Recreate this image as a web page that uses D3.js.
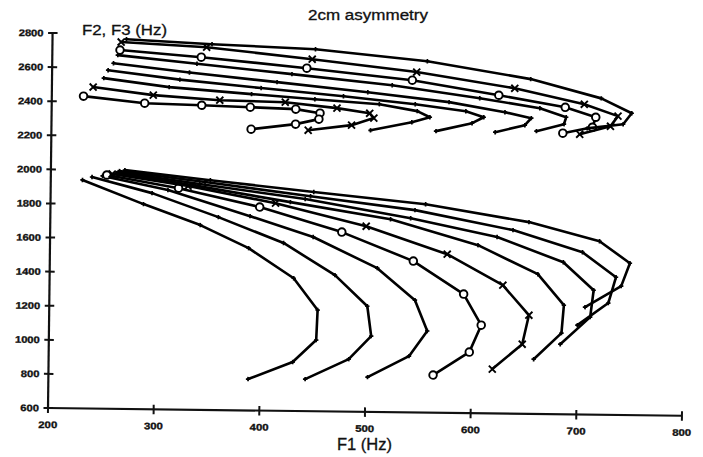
<!DOCTYPE html>
<html>
<head>
<meta charset="utf-8">
<script src="https://cdn.jsdelivr.net/npm/d3@7"></script>
<style>
  body { margin: 0; background: #fff; }
  #chart-container { width: 703px; height: 457px; }
</style>
</head>
<body>
<div id="chart-container"></div>
<script>
const chartTitle = "2cm asymmetry";
const xAxisTitle = "F1 (Hz)";
const yAxisTitle = "F2, F3 (Hz)";
const xTicks = [200, 300, 400, 500, 600, 700, 800];
const yTicks = [600, 800, 1000, 1200, 1400, 1600, 1800, 2000, 2200, 2400, 2600, 2800];

// F1 of each of the 9 series (shared by its F2 and F3 branch)
const f1Series = [
    [230, 288, 342, 388, 431, 454, 453, 431, 389],
    [239, 296, 359, 421, 470, 501, 505, 484, 443],
    [249, 311, 389, 449, 510, 546, 558, 541, 502],
    [253, 321, 398, 476, 544, 592, 609, 598, 564],
    [258, 330, 413, 499, 576, 629, 654, 648, 620],
    [262, 337, 427, 522, 605, 662, 687, 685, 659],
    [264, 341, 441, 541, 623, 686, 715, 712, 684],
    [265, 346, 446, 545, 638, 704, 736, 729, 700],
    [270, 351, 449, 555, 653, 720, 749, 741, 707]
];

// lower bundle
const f2Series = [
    [1940, 1803, 1684, 1552, 1379, 1194, 1018, 887, 784],
    [1958, 1868, 1732, 1585, 1400, 1220, 1045, 908, 788],
    [1965, 1887, 1740, 1622, 1444, 1259, 1079, 930, 804],
    [1971, 1899, 1794, 1653, 1488, 1298, 1117, 958, 821],
    [1977, 1912, 1818, 1689, 1531, 1353, 1179, 1008, 860],
    [1983, 1915, 1825, 1732, 1586, 1420, 1240, 1076, 921],
    [1989, 1925, 1844, 1739, 1635, 1492, 1330, 1172, 1011],
    [1995, 1937, 1861, 1787, 1677, 1552, 1408, 1256, 1124],
    [2001, 1948, 1886, 1822, 1725, 1618, 1491, 1356, 1230]
];

// upper bundle
const f3Series = [
    [2432, 2395, 2387, 2379, 2371, 2349, 2314, 2283, 2250],
    [2486, 2443, 2418, 2411, 2380, 2352, 2324, 2281, 2248],
    [2539, 2491, 2456, 2430, 2406, 2368, 2333, 2302, 2252],
    [2586, 2536, 2492, 2450, 2408, 2371, 2337, 2301, 2252],
    [2627, 2578, 2528, 2475, 2423, 2368, 2335, 2293, 2250],
    [2675, 2630, 2576, 2518, 2448, 2394, 2343, 2302, 2259],
    [2705, 2669, 2612, 2549, 2467, 2401, 2345, 2286, 2249],
    [2752, 2728, 2665, 2597, 2509, 2420, 2353, 2293, 2244],
    [2769, 2746, 2724, 2661, 2564, 2456, 2371, 2306, 2279]
];

const f2Markers = ['dot', 'dot', 'dot', 'circle', 'cross', 'dot', 'dot', 'dot', 'dot'];
const f3Markers = ['circle', 'cross', 'dot', 'dot', 'dot', 'dot', 'circle', 'cross', 'dot'];

document.addEventListener('DOMContentLoaded', function() {
    const svg = setupSVG();
    // the scanned figure is tilted a little clockwise
    const plot = svg.append('g').attr('transform', 'rotate(0.7, 48, 408)');
    const scales = defineScales();

    drawAxes(plot, scales);
    drawCurves(plot, scales, f2Series, f2Markers, 'f2');
    drawCurves(plot, scales, f3Series, f3Markers, 'f3');
    drawLabels(svg);
});

function setupSVG() {
    return d3.select('#chart-container').append('svg')
        .attr('width', 703)
        .attr('height', 457)
        .style('background', '#fff');
}

function defineScales() {
    const x = d3.scaleLinear().domain([200, 800]).range([48, 682]);
    const y = d3.scaleLinear().domain([600, 2800]).range([408, 33]);
    return { x, y };
}

function drawAxes(plot, { x, y }) {
    const axisColor = '#111';

    plot.append('line')
        .attr('x1', x(200)).attr('x2', x(800))
        .attr('y1', y(600)).attr('y2', y(600))
        .attr('stroke', axisColor).attr('stroke-width', 2.2);

    plot.append('line')
        .attr('x1', x(200)).attr('x2', x(200))
        .attr('y1', y(600)).attr('y2', y(2800))
        .attr('stroke', axisColor).attr('stroke-width', 2.2);

    plot.selectAll('.xtick')
        .data(xTicks)
        .enter().append('line')
        .attr('class', 'xtick')
        .attr('x1', d => x(d)).attr('x2', d => x(d))
        .attr('y1', y(600) - 4.5).attr('y2', y(600) + 5)
        .attr('stroke', axisColor).attr('stroke-width', 2);

    plot.selectAll('.ytick')
        .data(yTicks)
        .enter().append('line')
        .attr('class', 'ytick')
        .attr('x1', x(200) - 4.5).attr('x2', x(200) + 5)
        .attr('y1', d => y(d)).attr('y2', d => y(d))
        .attr('stroke', axisColor).attr('stroke-width', 2);

    plot.selectAll('.xlabel')
        .data(xTicks)
        .enter().append('text')
        .attr('class', 'xlabel')
        .attr('x', d => x(d))
        .attr('y', y(600) + 20)
        .attr('text-anchor', 'middle')
        .attr('textLength', d => String(d).length * 6.3)
        .attr('lengthAdjust', 'spacingAndGlyphs')
        .style('font-family', '"Liberation Sans", Arial, sans-serif')
        .style('font-weight', 'bold')
        .style('font-size', '9.5px')
        .attr('fill', '#111')
        .attr('stroke', '#111')
        .attr('stroke-width', 0.35)
        .text(d => d);

    plot.selectAll('.ylabel')
        .data(yTicks)
        .enter().append('text')
        .attr('class', 'ylabel')
        .attr('x', x(200) - 9)
        .attr('y', d => y(d) + 3.4)
        .attr('text-anchor', 'end')
        .attr('textLength', d => String(d).length * 6.2)
        .attr('lengthAdjust', 'spacingAndGlyphs')
        .style('font-family', '"Liberation Sans", Arial, sans-serif')
        .style('font-weight', 'bold')
        .style('font-size', '9.5px')
        .attr('fill', '#111')
        .attr('stroke', '#111')
        .attr('stroke-width', 0.35)
        .text(d => d);
}

function drawCurves(plot, { x, y }, fSeries, markers, cls) {
    const line = d3.line()
        .x(d => x(d[0]))
        .y(d => y(d[1]));

    fSeries.forEach((vals, i) => {
        const pts = vals.map((v, j) => [f1Series[i][j], v]);

        plot.append('path')
            .attr('class', cls + '-line')
            .attr('d', line(pts))
            .attr('fill', 'none')
            .attr('stroke', '#000')
            .attr('stroke-width', 2.6)
            .attr('stroke-linejoin', 'round')
            .attr('stroke-linecap', 'round');

        const g = plot.append('g').attr('class', cls + '-marks');
        const kind = markers[i];

        if (kind === 'circle') {
            g.selectAll('circle')
                .data(pts)
                .enter().append('circle')
                .attr('cx', d => x(d[0]))
                .attr('cy', d => y(d[1]))
                .attr('r', 3.8)
                .attr('fill', '#fff')
                .attr('stroke', '#000')
                .attr('stroke-width', 1.9);
        } else if (kind === 'cross') {
            g.selectAll('path')
                .data(pts)
                .enter().append('path')
                .attr('d', 'M-3.5,-3.5L3.5,3.5M-3.5,3.5L3.5,-3.5')
                .attr('transform', d => `translate(${x(d[0])},${y(d[1])})`)
                .attr('stroke', '#000')
                .attr('stroke-width', 1.9);
        } else {
            g.selectAll('path')
                .data(pts)
                .enter().append('path')
                .attr('d', 'M-2.2,0H2.2M0,-2.2V2.2')
                .attr('transform', d => `translate(${x(d[0])},${y(d[1])})`)
                .attr('stroke', '#000')
                .attr('stroke-width', 1.7);
        }
    });
}

function drawLabels(svg) {
    const font = '"Liberation Sans", Arial, sans-serif';

    svg.append('text')
        .attr('x', 308).attr('y', 20)
        .attr('textLength', 120)
        .attr('lengthAdjust', 'spacingAndGlyphs')
        .style('font-family', font)
        .style('font-size', '14px')
        .attr('fill', '#111')
        .attr('stroke', '#111')
        .attr('stroke-width', 0.3)
        .text(chartTitle);

    svg.append('text')
        .attr('x', 82).attr('y', 35)
        .attr('textLength', 85)
        .attr('lengthAdjust', 'spacingAndGlyphs')
        .style('font-family', font)
        .style('font-size', '14px')
        .attr('fill', '#111')
        .attr('stroke', '#111')
        .attr('stroke-width', 0.3)
        .text(yAxisTitle);

    svg.append('text')
        .attr('x', 337).attr('y', 450)
        .attr('textLength', 55)
        .attr('lengthAdjust', 'spacingAndGlyphs')
        .style('font-family', font)
        .style('font-size', '16px')
        .attr('fill', '#111')
        .attr('stroke', '#111')
        .attr('stroke-width', 0.3)
        .text(xAxisTitle);
}
</script>
</body>
</html>
